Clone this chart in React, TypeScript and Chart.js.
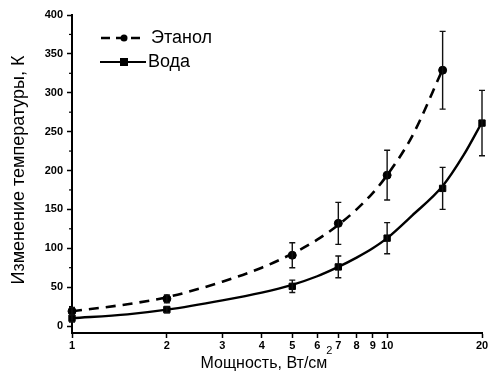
import React, { useEffect, useRef } from "react";
import { Chart, registerables } from "chart.js";

Chart.register(...registerables);

// ---- data ----
const xTickValues = [1, 2, 3, 4, 5, 6, 7, 8, 9, 10, 20];
const yTickValues = [0, 50, 100, 150, 200, 250, 300, 350, 400];
const yMinorTickValues = [25, 75, 125, 175, 225, 275, 325, 375];

const ethanolLabel = "Этанол";
const waterLabel = "Вода";

const ethanolX = [1, 2, 5, 7, 10, 15];
const ethanolY = [19, 35, 91, 132, 194, 329];
const ethanolErr = [5, 5, 16, 27, 32, 50];

const waterX = [1, 2, 5, 7, 10, 15, 20];
const waterY = [10, 21, 51, 76, 113, 177, 261];
const waterErr = [5, 4, 8, 14, 20, 27, 42];

// fitted curves
const ethanolFitX = [1, 1.5, 2, 3, 4, 5, 6, 7, 8, 9, 10, 12, 15];
const ethanolFitY = [19, 28, 37, 57, 75, 93, 111, 130, 150, 171, 194, 244, 330];
const waterFitX = [1, 1.5, 2, 3, 4, 5, 6, 7, 8, 9, 10, 12, 15, 17.5, 20];
const waterFitY = [10, 15, 21, 33, 43, 53, 64, 76, 88, 100, 113, 142, 180, 220, 262];

const xTitle = "Мощность, Вт/см";
const xTitleSup = "2";
const yTitle = "Изменение температуры, К";

const pts = (xs: number[], ys: number[]) => xs.map((x, i) => ({ x, y: ys[i] }));

const FONT = "'Liberation Sans', Arial, sans-serif";

export default function App() {
  const ref = useRef<HTMLCanvasElement | null>(null);

  useEffect(() => {
    document.body.style.margin = "0";
    const canvas = ref.current;
    if (!canvas) return;

    const extras = {
      id: "extras",
      afterDatasetsDraw(chart: any) {
        const { ctx, chartArea, scales } = chart;
        const x = scales.x;
        const y = scales.y;
        ctx.save();
        // minor ticks on y
        ctx.strokeStyle = "#000";
        ctx.lineWidth = 1.2;
        yMinorTickValues.forEach((v) => {
          const py = y.getPixelForValue(v);
          ctx.beginPath();
          ctx.moveTo(chartArea.left - 3, py);
          ctx.lineTo(chartArea.left, py);
          ctx.stroke();
        });
        // error bars
        const drawErr = (xs: number[], ys: number[], es: number[]) => {
          xs.forEach((xv, i) => {
            const px = x.getPixelForValue(xv);
            const top = y.getPixelForValue(ys[i] + es[i]);
            const bot = y.getPixelForValue(ys[i] - es[i]);
            ctx.strokeStyle = "#111";
            ctx.lineWidth = 1.4;
            ctx.beginPath();
            ctx.moveTo(px, top);
            ctx.lineTo(px, bot);
            ctx.moveTo(px - 3, top);
            ctx.lineTo(px + 3, top);
            ctx.moveTo(px - 3, bot);
            ctx.lineTo(px + 3, bot);
            ctx.stroke();
          });
        };
        drawErr(ethanolX, ethanolY, ethanolErr);
        drawErr(waterX, waterY, waterErr);

        // legend
        ctx.fillStyle = "#000";
        ctx.strokeStyle = "#000";
        ctx.lineWidth = 2.5;
        ctx.setLineDash([9, 6]);
        ctx.beginPath();
        ctx.moveTo(101, 38);
        ctx.lineTo(140, 38);
        ctx.stroke();
        ctx.setLineDash([]);
        ctx.beginPath();
        ctx.arc(124, 38, 3.5, 0, Math.PI * 2);
        ctx.fill();
        ctx.lineWidth = 2;
        ctx.beginPath();
        ctx.moveTo(100, 62);
        ctx.lineTo(146, 62);
        ctx.stroke();
        ctx.fillRect(120, 58, 8, 8);
        ctx.font = `18px ${FONT}`;
        ctx.textBaseline = "middle";
        ctx.textAlign = "left";
        ctx.fillText(ethanolLabel, 151, 38);
        ctx.fillText(waterLabel, 148, 62);

        // x title with superscript
        ctx.font = `16px ${FONT}`;
        const w1 = ctx.measureText(xTitle).width;
        ctx.font = `11px ${FONT}`;
        const w2 = ctx.measureText(xTitleSup).width;
        const cx = (chartArea.left + chartArea.right) / 2 - 10;
        const startX = cx - (w1 + w2) / 2;
        ctx.font = `16px ${FONT}`;
        ctx.textBaseline = "alphabetic";
        ctx.fillText(xTitle, startX, 368);
        ctx.font = `11px ${FONT}`;
        ctx.fillText(xTitleSup, startX + w1 - 1, 354);

        // y title
        ctx.save();
        ctx.translate(24, (chartArea.top + chartArea.bottom) / 2 - 4);
        ctx.rotate(-Math.PI / 2);
        ctx.font = `18px ${FONT}`;
        ctx.textAlign = "center";
        ctx.textBaseline = "alphabetic";
        ctx.fillText(yTitle, 0, 0);
        ctx.restore();

        ctx.restore();
      },
    };

    const chart = new Chart(canvas, {
      type: "line",
      data: {
        datasets: [
          {
            label: ethanolLabel + " fit",
            data: pts(ethanolFitX, ethanolFitY),
            borderColor: "#000",
            borderWidth: 2.6,
            borderDash: [10, 7],
            pointRadius: 0,
            tension: 0.4,
            cubicInterpolationMode: "monotone",
          },
          {
            label: waterLabel + " fit",
            data: pts(waterFitX, waterFitY),
            borderColor: "#000",
            borderWidth: 2.4,
            pointRadius: 0,
            tension: 0.4,
            cubicInterpolationMode: "monotone",
          },
          {
            label: ethanolLabel,
            data: pts(ethanolX, ethanolY),
            showLine: false,
            pointStyle: "circle",
            pointRadius: 4,
            backgroundColor: "#000",
            borderColor: "#000",
            clip: false,
          },
          {
            label: waterLabel,
            data: pts(waterX, waterY),
            showLine: false,
            pointStyle: "rect",
            pointRadius: 4.5,
            backgroundColor: "#000",
            borderColor: "#000",
            clip: false,
          },
        ] as any,
      },
      options: {
        animation: false,
        responsive: false,
        layout: { padding: { top: 15, right: 8, left: 0, bottom: 0 } },
        plugins: { legend: { display: false }, tooltip: { enabled: false } },
        scales: {
          x: {
            type: "logarithmic",
            min: 1,
            max: 20,
            afterBuildTicks: (s: any) => {
              s.ticks = xTickValues.map((v) => ({ value: v }));
            },
            afterFit: (s: any) => {
              s.height = 42;
            },
            ticks: {
              color: "#000",
              font: { family: FONT, size: 11, weight: "bold" },
              padding: 1,
              maxRotation: 0,
              autoSkip: false,
              callback: (v: any) => String(v),
            },
            grid: {
              display: true,
              drawOnChartArea: false,
              drawTicks: true,
              tickLength: 5,
              tickColor: "#000",
              tickWidth: 1.5,
            },
            border: { display: true, color: "#000", width: 2 },
          },
          y: {
            type: "linear",
            min: -9,
            max: 400,
            afterBuildTicks: (s: any) => {
              s.ticks = yTickValues.map((v) => ({ value: v }));
            },
            afterFit: (s: any) => {
              s.width = 72;
            },
            ticks: {
              color: "#000",
              font: { family: FONT, size: 11, weight: "bold" },
              padding: 4,
              callback: (v: any) => String(v),
            },
            grid: {
              display: true,
              drawOnChartArea: false,
              drawTicks: true,
              tickLength: 5,
              tickColor: "#000",
              tickWidth: 1.5,
            },
            border: { display: true, color: "#000", width: 2 },
          },
        },
      } as any,
      plugins: [extras],
    });

    return () => chart.destroy();
  }, []);

  return (
    <div style={{ width: 490, height: 375, background: "#fff" }}>
      <canvas ref={ref} width={490} height={375} />
    </div>
  );
}
